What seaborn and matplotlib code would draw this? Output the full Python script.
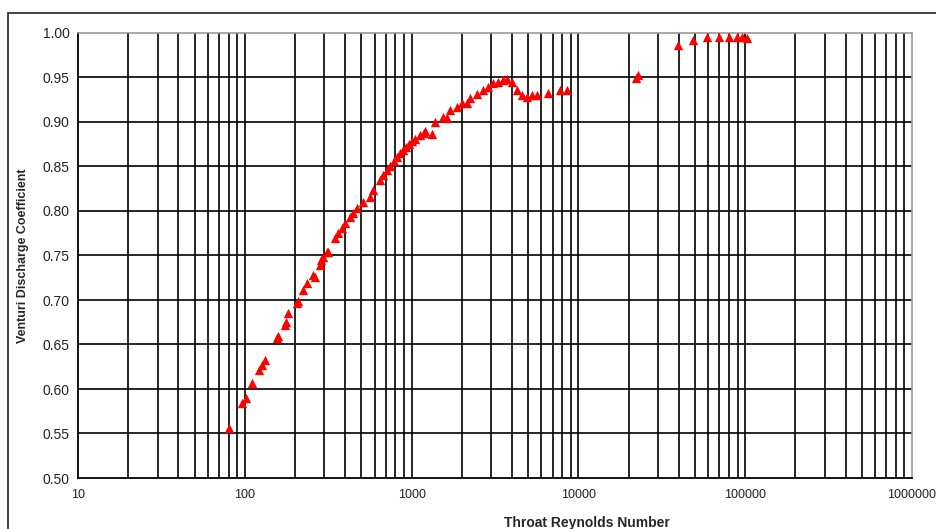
import numpy as np
import pandas as pd
import matplotlib
matplotlib.use("Agg")
import matplotlib.pyplot as plt
import matplotlib.patches as mpatches
from matplotlib.ticker import FixedLocator, MultipleLocator
import seaborn as sns

# Data
reynolds = [80.4, 96.2, 101.6, 110.4, 121.7, 126.9, 132, 156, 158, 174, 177, 181.6,
            205.6, 207, 223, 236, 256, 262, 282, 288, 294, 311, 315,
            347, 362, 383, 399, 427, 445, 471, 512, 563, 587, 647,
            674, 712, 743, 784, 817, 851, 888, 925, 966, 1000, 1048, 1122, 1189,
            1202, 1324, 1380, 1542, 1630, 1700, 1871, 2005, 2148, 2240, 2466,
            2680, 2871, 3076, 3296, 3532, 3733, 4000, 4286, 4592, 4920, 5272,
            5649, 6577, 7762, 8551, 22000, 22800,
            39540, 48640, 59020, 69660, 79980, 89300, 95700, 102500]
cd = [0.556, 0.584, 0.590, 0.607, 0.621, 0.627, 0.633, 0.657, 0.660, 0.672, 0.675, 0.685,
      0.697, 0.699, 0.711, 0.719, 0.728, 0.726, 0.739, 0.745, 0.748, 0.754, 0.754,
      0.770, 0.775, 0.781, 0.787, 0.793, 0.798, 0.803, 0.810, 0.816, 0.824, 0.835,
      0.840, 0.846, 0.851, 0.856, 0.861, 0.865, 0.869, 0.872, 0.875, 0.879, 0.881, 0.885, 0.888,
      0.890, 0.887, 0.900, 0.906, 0.905, 0.913, 0.917, 0.921, 0.921, 0.927, 0.932,
      0.936, 0.939, 0.944, 0.945, 0.947, 0.948, 0.945, 0.936, 0.930, 0.928, 0.930,
      0.930, 0.933, 0.936, 0.936, 0.949, 0.953,
      0.987, 0.992, 0.995, 0.995, 0.996, 0.995, 0.995, 0.994]

x_ticks = [10, 100, 1000, 10000, 100000, 1000000]
x_tick_labels = ["10", "100", "1000", "10000", "100000", "1000000"]
y_ticks = [0.50, 0.55, 0.60, 0.65, 0.70, 0.75, 0.80, 0.85, 0.90, 0.95, 1.00]

df = pd.DataFrame({"Re": reynolds, "Cd": cd})

sns.set_style("white")
plt.rcParams["font.family"] = ["Liberation Sans", "DejaVu Sans"]

fig = plt.figure(figsize=(9.36, 5.29), dpi=100)
ax = fig.add_axes([78/936, 1-478/529, (912-78)/936, (478-33)/529])

ax.set_xscale("log")
ax.set_xlim(10, 1e6)
ax.set_ylim(0.5, 1.0)

# grid lines (vertical at every 1..9 x 10^n, horizontal every 0.05)
vgrid = [m * 10**e for e in range(1, 6) for m in range(1, 10)]
for v in vgrid:
    if 10 < v < 1e6:
        ax.axvline(v, color="black", lw=1.2, zorder=1)
for h in y_ticks:
    if 0.5 < h < 1.0:
        ax.axhline(h, color="black", lw=1.2, zorder=1)

sns.scatterplot(data=df, x="Re", y="Cd", marker="^", color="#ff0000",
                s=45, linewidth=0, ax=ax, zorder=3, clip_on=False)

ax.xaxis.set_major_locator(FixedLocator(x_ticks))
ax.set_xticklabels(x_tick_labels)
ax.xaxis.set_minor_locator(FixedLocator([]))
ax.set_yticks(y_ticks)
ax.set_yticklabels([f"{v:.2f}" for v in y_ticks])
ax.yaxis.set_minor_locator(MultipleLocator(0.01))

ax.tick_params(axis="x", which="both", length=0, pad=8, labelsize=9, colors="#222222")
ax.tick_params(axis="y", which="major", length=4, width=1, direction="out", labelsize=10,
               colors="black", labelcolor="#222222", pad=2)
ax.tick_params(axis="y", which="minor", length=2.5, width=0.8, direction="out", colors="black")

for side in ["left", "bottom"]:
    ax.spines[side].set_color("black")
    ax.spines[side].set_linewidth(1.3)
for side in ["top", "right"]:
    ax.spines[side].set_color("#999999")
    ax.spines[side].set_linewidth(1.2)

ax.set_xlabel("Throat Reynolds Number", fontsize=10, fontweight="bold", labelpad=4)
ax.set_ylabel("Venturi Discharge Coefficient", fontsize=9, fontweight="bold", labelpad=10)
ax.xaxis.set_label_coords(0.61, -0.085)

# outer chart-area frame
frame = mpatches.Rectangle((8/936, -0.1), 1.2, 1 - 13/529 + 0.1, transform=fig.transFigure,
                           fill=False, edgecolor="#333333", lw=1.3, clip_on=False)
fig.patches.append(frame)

fig.savefig("out.png", dpi=100)
